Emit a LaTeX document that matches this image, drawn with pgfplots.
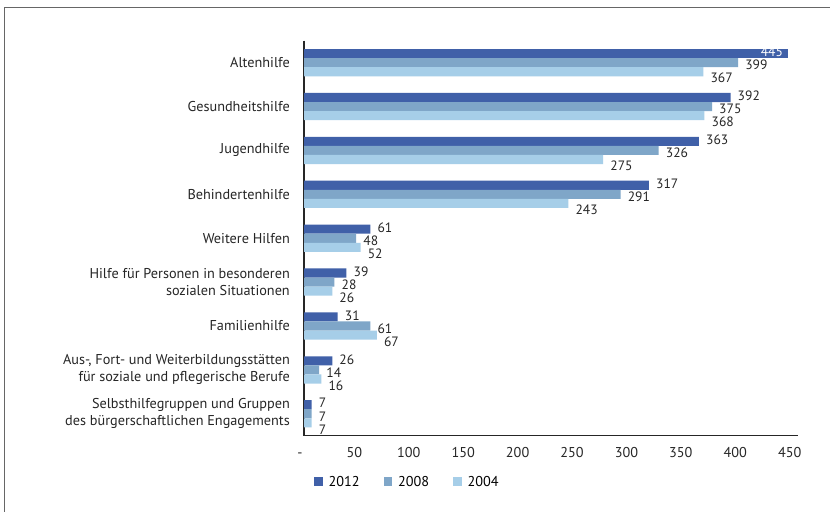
\documentclass[border=0pt]{standalone}
\usepackage{fontspec}
\setmainfont{PT Sans}
\usepackage{pgfplots}
\pgfplotsset{compat=1.18}
\definecolor{c2012}{RGB}{64,96,168}
\definecolor{c2008}{RGB}{127,166,200}
\definecolor{c2004}{RGB}{166,206,232}
\newcommand{\lblfont}{\fontsize{14.3}{17}\selectfont}
\newcommand{\valfont}{\fontsize{13.6}{15}\selectfont}

\begin{document}
\begin{tikzpicture}
\useasboundingbox (0bp,0bp) rectangle (830bp,-512bp);
\fill[white] (0bp,0bp) rectangle (830bp,-512bp);
% outer frame (top and left edge)
\draw[black!60, line width=1bp] (4.5bp,-512bp) -- (4.5bp,-7.5bp) -- (830bp,-7.5bp);
\begin{axis}[
  at={(304bp,-435.7bp)}, anchor=south west,
  scale only axis, width=494bp, height=395bp,
  xbar, bar width=0.207,
  xmin=0, xmax=454, ymin=-0.5, ymax=8.5, y dir=reverse,
  /pgf/number format/assume math mode=true,
  axis x line*=bottom, axis y line*=left,
  axis line style={line width=1.4bp, black!85, -},
  major tick length=0pt,
  xtick={0,50,...,450},
  xticklabels={-,50,100,150,200,250,300,350,400,450},
  xticklabel style={font=\lblfont, anchor=base, inner sep=0pt, yshift=-22bp, xshift=-4bp, text=black!85},
  ytick={0,...,8},
  yticklabels={Altenhilfe, Gesundheitshilfe, Jugendhilfe, Behindertenhilfe, Weitere Hilfen,
    {Hilfe für Personen in besonderen\\sozialen Situationen}, Familienhilfe,
    {Aus-, Fort- und Weiterbildungsstätten\\für soziale und pflegerische Berufe},
    {Selbsthilfegruppen und Gruppen\\des bürgerschaftlichen Engagements}},
  yticklabel style={font=\lblfont, align=right, anchor=east, inner sep=0pt, xshift=-14bp, text=black!85},
  nodes near coords,
  nodes near coords style={font=\valfont, anchor=west, inner sep=0pt, xshift=7bp, text=black!85},
  legend columns=3,
  legend style={draw=none, fill=none, font=\lblfont, at={(0.014,-0.117)}, anchor=west,
    /tikz/every odd column/.append style={column sep=4bp},
    /tikz/every even column/.append style={column sep=22bp}},
  legend image code/.code={\fill[#1] (0bp,-4.5bp) rectangle (8.5bp,4.5bp);},
]
% 2012
\addplot[fill=c2012, draw=none, bar shift=-0.207,
  nodes near coords style={yshift=1.5bp}]
  coordinates {(392,1) (363,2) (317,3) (61,4) (39,5) (31,6) (26,7) (7,8)};
\addlegendentry{2012}
% 2008
\addplot[fill=c2008, draw=none, bar shift=0,
  nodes near coords style={yshift=-2.5bp}]
  coordinates {(399,0) (375,1) (326,2) (291,3) (48,4) (28,5) (61,6) (14,7) (7,8)};
\addlegendentry{2008}
% 2004
\addplot[fill=c2004, draw=none, bar shift=0.207,
  nodes near coords style={yshift=-6.5bp}]
  coordinates {(367,0) (368,1) (275,2) (243,3) (52,4) (26,5) (67,6) (16,7) (7,8)};
\addlegendentry{2004}
% 2012, longest bar: value set inside the bar
\addplot[fill=c2012, draw=none, bar shift=-0.207, forget plot,
  nodes near coords style={anchor=east, xshift=-12bp, yshift=1.5bp, text=white}]
  coordinates {(445,0)};
\end{axis}
\end{tikzpicture}
\end{document}
